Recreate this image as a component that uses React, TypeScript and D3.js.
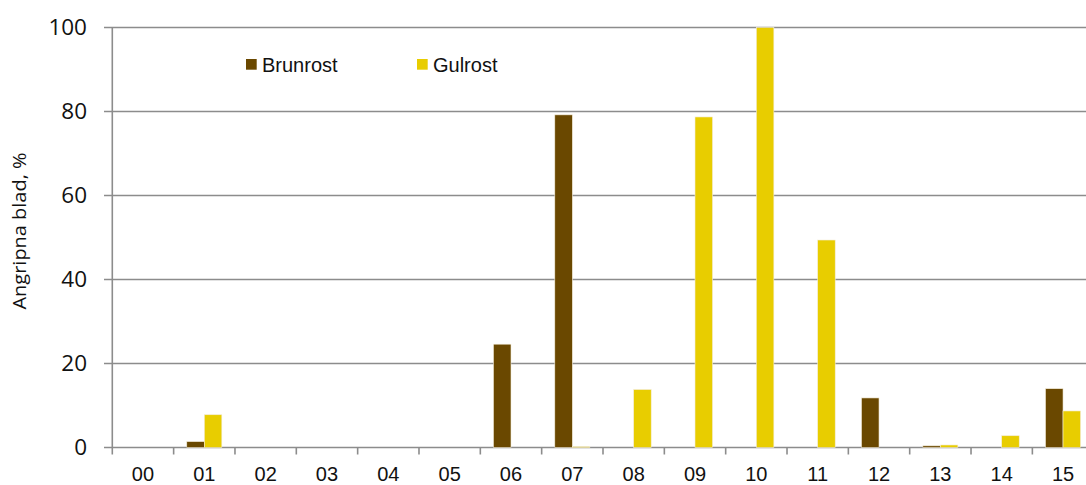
import React from "react";
import * as d3 from "d3";

// Share of infected leaves per year, two rust species
const categories = ["00", "01", "02", "03", "04", "05", "06", "07", "08", "09", "10", "11", "12", "13", "14", "15"];
const brunrost = [0, 1.4, 0, 0, 0, 0, 24.6, 79.2, 0, 0, 0, 0, 11.8, 0.4, 0, 14.0];
const gulrost = [0, 7.8, 0, 0, 0, 0, 0, 0.2, 13.8, 78.7, 100, 49.4, 0, 0.6, 2.8, 8.7];
const seriesNames = ["Brunrost", "Gulrost"];
const yTicks = [0, 20, 40, 60, 80, 100];

const W = 1086;
const H = 485;
const left = 112.3;
const right = 1093.7;
const top = 27.5;
const bottom = 447.5;

const colors: Record<string, string> = { Brunrost: "#6a4800", Gulrost: "#e8cd00" };
const gridColor = "#8c8c8c";

export default function App() {
  const x0 = d3.scaleBand<string>().domain(categories).range([left, right]).paddingInner(0).paddingOuter(0);
  const x1 = d3.scaleBand<string>().domain(seriesNames).range([0, x0.bandwidth()]).paddingInner(0).paddingOuter(0.75);
  const y = d3.scaleLinear().domain([0, 100]).range([bottom, top]);

  const values: Record<string, number[]> = { Brunrost: brunrost, Gulrost: gulrost };
  const boundaries = categories.map((c) => x0(c) as number).concat([right]);

  return (
    <svg width={W} height={H} style={{ position: "absolute", left: 0, top: 0, background: "#fff" }}>
      <rect x={0} y={0} width={W} height={H} fill="#fff" />
      {/* horizontal gridlines and y ticks */}
      {yTicks.map((t) => (
        <g key={t}>
          <line x1={104} x2={right} y1={y(t)} y2={y(t)} stroke={gridColor} strokeWidth={1.6} />
          <text
            x={87}
            y={y(t)}
            dy="0.35em"
            textAnchor="end"
            fontFamily="'Open Sans', sans-serif"
            fontSize={22.5}
            fill="#111"
          >
            {t}
          </text>
        </g>
      ))}
      {/* y axis */}
      <line x1={left} x2={left} y1={top} y2={bottom} stroke={gridColor} strokeWidth={1.6} />
      {/* x axis tick marks at category boundaries */}
      {boundaries.map((b, i) => (
        <line key={i} x1={b} x2={b} y1={bottom} y2={454.5} stroke={gridColor} strokeWidth={1.6} />
      ))}
      {/* bars */}
      {categories.map((c, i) => (
        <g key={c} transform={`translate(${x0(c)},0)`}>
          {seriesNames.map((s) => {
            const v = values[s][i];
            if (v <= 0) return null;
            return (
              <rect
                key={s}
                x={x1(s)}
                y={y(v)}
                width={x1.bandwidth()}
                height={bottom - y(v)}
                fill={colors[s]}
                stroke="#f3ecd9"
                strokeWidth={0.6}
              />
            );
          })}
        </g>
      ))}
      {/* x tick labels */}
      {categories.map((c) => (
        <text
          key={c}
          x={(x0(c) as number) + x0.bandwidth() / 2}
          y={481}
          textAnchor="middle"
          fontFamily="'Liberation Sans', Arial, sans-serif"
          fontSize={20}
          fill="#111"
        >
          {c}
        </text>
      ))}
      {/* y axis title */}
      <text
        transform="translate(26,231) rotate(-90)"
        textAnchor="middle"
        fontFamily="'Open Sans', sans-serif"
        fontSize={18}
        textLength={157}
        lengthAdjust="spacingAndGlyphs"
        fill="#111"
      >
        Angripna blad, %
      </text>
      {/* legend */}
      {seriesNames.map((s, i) => {
        const lx = i === 0 ? 246 : 417;
        return (
          <g key={s}>
            <rect x={lx} y={59} width={10.7} height={10.7} fill={colors[s]} />
            <text
              x={lx + 16}
              y={71.7}
              fontFamily="'Liberation Sans', Arial, sans-serif"
              fontSize={20}
              fill="#111"
            >
              {s}
            </text>
          </g>
        );
      })}
    </svg>
  );
}
